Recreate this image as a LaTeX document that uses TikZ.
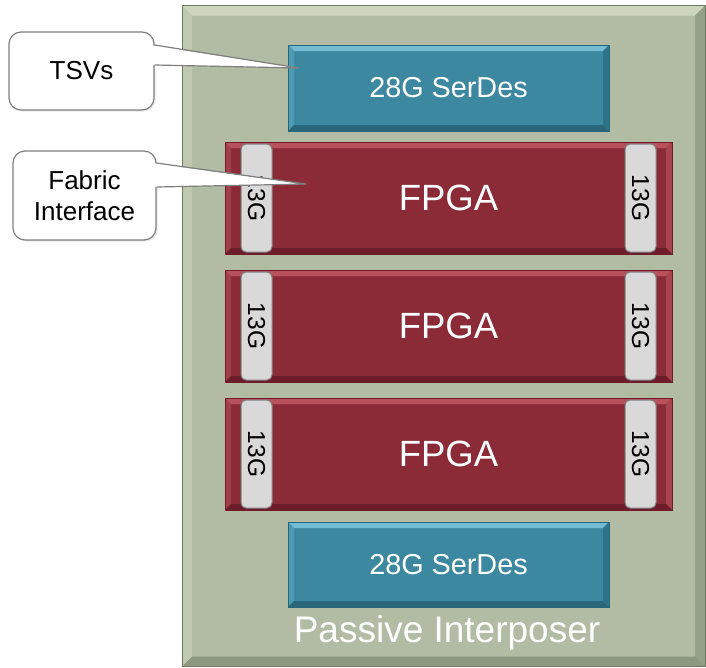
\documentclass[tikz,border=0pt]{standalone}
\usepackage{fontspec}
\setmainfont{Liberation Sans}
\usetikzlibrary{shadows}
\definecolor{ipbase}{HTML}{B2BCA4}
\definecolor{iptop}{HTML}{CDD5BE}
\definecolor{ipleft}{HTML}{C0C8B0}
\definecolor{ipright}{HTML}{96A288}
\definecolor{ipbot}{HTML}{8C9880}
\definecolor{ipline}{HTML}{6E7A60}
\definecolor{fpbase}{HTML}{8C2B38}
\definecolor{fptop}{HTML}{B9505E}
\definecolor{fpleft}{HTML}{A33E4B}
\definecolor{fpright}{HTML}{A9434F}
\definecolor{fpbot}{HTML}{6C1D29}
\definecolor{sdbase}{HTML}{3B88A0}
\definecolor{sdtop}{HTML}{74BCD3}
\definecolor{sdleft}{HTML}{4E9CB4}
\definecolor{sdright}{HTML}{2F7389}
\definecolor{sdbot}{HTML}{2A6679}
\definecolor{tabfill}{HTML}{D9D9D9}
\definecolor{tabline}{HTML}{7F7F7F}
\newcommand\bevelpic[5]{%
  \coordinate (bnw) at (path picture bounding box.north west);
  \coordinate (bne) at (path picture bounding box.north east);
  \coordinate (bsw) at (path picture bounding box.south west);
  \coordinate (bse) at (path picture bounding box.south east);
  \fill[#2] (bnw) -- (bne) -- ([shift={(-#1,-#1)}]bne) -- ([shift={(#1,-#1)}]bnw) -- cycle;
  \fill[#3] (bnw) -- ([shift={(#1,-#1)}]bnw) -- ([shift={(#1,#1)}]bsw) -- (bsw) -- cycle;
  \fill[#4] (bne) -- ([shift={(-#1,-#1)}]bne) -- ([shift={(-#1,#1)}]bse) -- (bse) -- cycle;
  \fill[#5] (bsw) -- ([shift={(#1,#1)}]bsw) -- ([shift={(-#1,#1)}]bse) -- (bse) -- cycle;
}
\begin{document}
\begin{tikzpicture}[x=1pt,y=-1pt,
  ipbox/.style={rectangle, inner sep=0pt, fill=ipbase, draw=ipline, line width=0.8pt,
    path picture={\bevelpic{10pt}{iptop}{ipleft}{ipright}{ipbot}}},
  fpgabox/.style={rectangle, inner sep=0pt, fill=fpbase, draw=fpbot, line width=0.6pt,
    minimum width=447pt, minimum height=112pt, text=white,
    font=\fontsize{36.5}{40}\selectfont,
    path picture={\bevelpic{6pt}{fptop}{fpleft}{fpright}{fpbot}}},
  serdesbox/.style={rectangle, inner sep=0pt, fill=sdbase, draw=sdbot, line width=0.6pt,
    minimum width=321pt, text=white,
    font=\fontsize{28.8}{32}\selectfont,
    path picture={\bevelpic{6pt}{sdtop}{sdleft}{sdright}{sdbot}}},
  tabbox/.style={rectangle, rounded corners=5pt, inner sep=0pt, fill=tabfill, draw=tabline,
    line width=1pt, rotate=-90, minimum width=108pt, minimum height=31pt,
    font=\fontsize{24.5}{26}\selectfont},
  callbox/.style={rectangle, rounded corners=12pt, fill=white, draw=tabline, line width=1.2pt,
    align=center, font=\fontsize{26}{31}\selectfont,
    drop shadow={opacity=0.2, shadow xshift=1.5pt, shadow yshift=-1.5pt}},
  wedgeline/.style={draw=tabline, line width=1.2pt, line join=round}
]
\useasboundingbox (0,0) rectangle (706,667);

% interposer
\node[ipbox, minimum width=523pt, minimum height=661pt] (ip) at (443.5,336) {};
\node[text=white, font=\fontsize{37}{40}\selectfont] (iplabel) at (447,633) {Passive Interposer};

% serdes
\node[serdesbox, minimum height=86pt] (s1) at (448.5,88) {28G SerDes};
\node[serdesbox, minimum height=85pt] (s2) at (448.5,564.5) {28G SerDes};

% fpgas
\node[fpgabox] (f1) at (448.5,198) {FPGA};
\node[fpgabox] (f2) at (448.5,326) {FPGA};
\node[fpgabox] (f3) at (448.5,454) {FPGA};

% 13G tabs
\node[tabbox] (t1l) at (256.5,198) {13G};
\node[tabbox] (t1r) at (640.5,198) {13G};
\node[tabbox] (t2l) at (256.5,326) {13G};
\node[tabbox] (t2r) at (640.5,326) {13G};
\node[tabbox] (t3l) at (256.5,454) {13G};
\node[tabbox] (t3r) at (640.5,454) {13G};

% callouts
\node[callbox, minimum width=145pt, minimum height=78pt] (tsv) at (81.5,71) {TSVs};
\node[callbox, minimum width=143pt, minimum height=89pt] (fab) at (84.5,195.5) {Fabric\\Interface};
\coordinate (tsvtip) at (299,68);
\coordinate (fabtip) at (306,184);

\fill[white] ([shift={(-6pt,26pt)}]tsv.east) -- (tsvtip) -- ([shift={(-6pt,6pt)}]tsv.east) -- cycle;
\draw[wedgeline] ([yshift=26pt]tsv.east) -- (tsvtip) -- ([yshift=6pt]tsv.east);
\fill[white] ([shift={(-6pt,32.5pt)}]fab.east) -- (fabtip) -- ([shift={(-6pt,8.5pt)}]fab.east) -- cycle;
\draw[wedgeline] ([yshift=32.5pt]fab.east) -- (fabtip) -- ([yshift=8.5pt]fab.east);
\end{tikzpicture}
\end{document}
